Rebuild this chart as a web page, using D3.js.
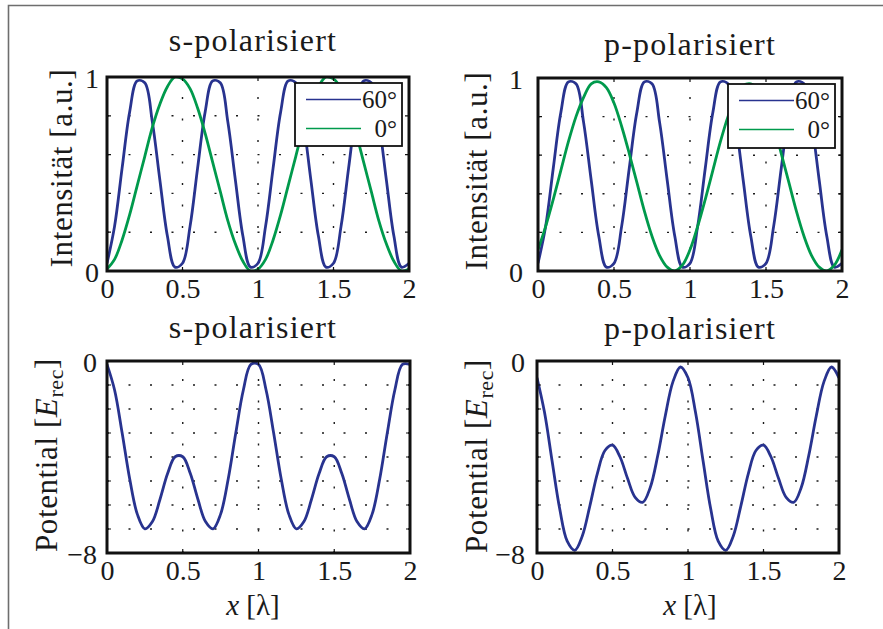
<!DOCTYPE html>
<html>
<head>
<meta charset="utf-8">
<script src="https://cdnjs.cloudflare.com/ajax/libs/d3/7.8.5/d3.min.js"></script>
<style>
  body { margin: 0; background: #fff; }
</style>
</head>
<body>
<div id="chart"></div>
<script>
// sample positions along x (in units of lambda)
const xPos = [0, 0.05, 0.1, 0.15, 0.2, 0.25, 0.3, 0.35, 0.4, 0.45,
              0.5, 0.55, 0.6, 0.65, 0.7, 0.75, 0.8, 0.85, 0.9, 0.95,
              1, 1.05, 1.1, 1.15, 1.2, 1.25, 1.3, 1.35, 1.4, 1.45,
              1.5, 1.55, 1.6, 1.65, 1.7, 1.75, 1.8, 1.85, 1.9, 1.95, 2];

const xTicks = [0, 0.5, 1, 1.5, 2];
const intTicks = [0, 0.2, 0.4, 0.6, 0.8, 1];
const intLabels = [0, 1];
const potTicks = [-8, -7, -6, -5, -4, -3, -2, -1, 0];
const potLabels = [-8, 0];
const legendNames = ["60°", "0°"];

// intensity, s-polarised
const intS60 = [0.04, 0.23, 0.53, 0.82, 0.98, 0.97, 0.77, 0.47, 0.18, 0.02,
                0.04, 0.23, 0.53, 0.82, 0.98, 0.97, 0.77, 0.47, 0.18, 0.02,
                0.04, 0.23, 0.53, 0.82, 0.98, 0.97, 0.77, 0.47, 0.18, 0.02,
                0.04, 0.23, 0.53, 0.82, 0.98, 0.97, 0.77, 0.47, 0.18, 0.02, 0.04];
const intS0 = [0.01, 0.06, 0.16, 0.29, 0.44, 0.59, 0.74, 0.86, 0.95, 1.00,
               0.99, 0.94, 0.84, 0.71, 0.56, 0.41, 0.26, 0.14, 0.05, 0.00,
               0.01, 0.06, 0.16, 0.29, 0.44, 0.59, 0.74, 0.86, 0.95, 1.00,
               0.99, 0.94, 0.84, 0.71, 0.56, 0.41, 0.26, 0.14, 0.05, 0.00, 0.01];

// intensity, p-polarised
const intP60 = [0.04, 0.23, 0.53, 0.82, 0.98, 0.97, 0.77, 0.47, 0.18, 0.02,
                0.04, 0.23, 0.53, 0.82, 0.98, 0.97, 0.77, 0.47, 0.18, 0.02,
                0.04, 0.23, 0.53, 0.82, 0.98, 0.97, 0.77, 0.47, 0.18, 0.02,
                0.04, 0.23, 0.53, 0.82, 0.98, 0.97, 0.77, 0.47, 0.18, 0.02, 0.04];
const intP0 = [0.11, 0.23, 0.37, 0.52, 0.67, 0.80, 0.90, 0.97, 0.98, 0.95,
               0.87, 0.75, 0.61, 0.46, 0.31, 0.18, 0.08, 0.02, 0.00, 0.03,
               0.11, 0.23, 0.37, 0.52, 0.67, 0.80, 0.90, 0.96, 0.97, 0.94,
               0.86, 0.75, 0.61, 0.46, 0.31, 0.18, 0.08, 0.02, 0.00, 0.03, 0.11];

// potential in E_rec
const potS = [-0.14, -1.21, -3.00, -4.92, -6.38, -6.99, -6.69, -5.76, -4.69, -3.99,
              -3.99, -4.69, -5.76, -6.69, -6.99, -6.38, -4.92, -3.00, -1.21, -0.14,
              -0.14, -1.21, -3.00, -4.92, -6.38, -6.99, -6.69, -5.76, -4.69, -3.99,
              -3.99, -4.69, -5.76, -6.69, -6.99, -6.38, -4.92, -3.00, -1.21, -0.14, -0.14];
const potP = [-0.70, -2.15, -4.17, -6.15, -7.51, -7.89, -7.29, -6.04, -4.68, -3.73,
              -3.51, -4.00, -4.90, -5.68, -5.89, -5.27, -3.93, -2.27, -0.87, -0.25,
              -0.70, -2.15, -4.17, -6.15, -7.51, -7.89, -7.29, -6.04, -4.68, -3.73,
              -3.51, -4.00, -4.90, -5.68, -5.89, -5.27, -3.93, -2.27, -0.87, -0.25, -0.70];

const blue = "#28338f";
const green = "#009a4c";
const serif = "'Liberation Serif', 'DejaVu Serif', serif";

const panels = [
  { title: "s-polarisiert", box: [107, 77, 409, 271], titleX: 253, titleY: 51,
    ylabX: 72, ylabY: 168, gap: 8, domain: [0, 1], ticks: intTicks, labels: intLabels,
    kind: "int", series: [[intS60, blue], [intS0, green]], legend: [295, 83, 402, 146] },
  { title: "p-polarisiert", box: [538, 78, 842, 271], titleX: 690, titleY: 55,
    ylabX: 487, ylabY: 171, gap: 15, domain: [0, 1], ticks: intTicks, labels: intLabels,
    kind: "int", series: [[intP60, blue], [intP0, green]], legend: [728, 84, 835, 148] },
  { title: "s-polarisiert", box: [107, 361, 410, 553], titleX: 253, titleY: 338,
    ylabX: 57, ylabY: 455, gap: 10, domain: [-8, 0], ticks: potTicks, labels: potLabels,
    kind: "pot", series: [[potS, blue]], xlabX: 253 },
  { title: "p-polarisiert", box: [537, 361, 839, 553], titleX: 690, titleY: 339,
    ylabX: 487, ylabY: 456, gap: 12, domain: [-8, 0], ticks: potTicks, labels: potLabels,
    kind: "pot", series: [[potP, blue]], xlabX: 690 }
];

const svg = d3.select("#chart").append("svg")
    .attr("width", 883)
    .attr("height", 629)
    .style("display", "block")
    .attr("font-family", serif);

// outer frame (only top and left edges visible)
svg.append("path")
    .attr("d", "M8.5,629V5.5H883")
    .attr("fill", "none")
    .attr("stroke", "#6e6e6e")
    .attr("stroke-width", 1.6);

panels.forEach((p, k) => {
    const [left, top, right, bottom] = p.box;
    const x = d3.scaleLinear().domain([0, 2]).range([left, right]);
    const y = d3.scaleLinear().domain(p.domain).range([bottom, top]);
    const g = svg.append("g");

    g.append("clipPath").attr("id", "clip" + k)
        .append("rect")
        .attr("x", left).attr("y", top)
        .attr("width", right - left).attr("height", bottom - top);

    // dotted grid
    const innerY = p.ticks.slice(1, -1);
    const innerX = xTicks.slice(1, -1);
    g.selectAll(".hgrid").data(innerY).enter().append("path")
        .attr("d", d => "M" + left + "," + y(d) + "H" + right)
        .attr("stroke", "#1a1a1a").attr("stroke-width", 1.4)
        .attr("stroke-dasharray", "2,19.5");
    g.selectAll(".vgrid").data(innerX).enter().append("path")
        .attr("d", d => "M" + x(d) + "," + bottom + "V" + top)
        .attr("stroke", "#1a1a1a").attr("stroke-width", 1.4)
        .attr("stroke-dasharray", "2,19.5");

    // curves
    const line = d3.line()
        .x((d, i) => x(xPos[i]))
        .y(d => y(d))
        .curve(d3.curveCatmullRom);
    p.series.forEach(s => {
        g.append("path")
            .attr("clip-path", "url(#clip" + k + ")")
            .attr("d", line(s[0]))
            .attr("fill", "none")
            .attr("stroke", s[1])
            .attr("stroke-width", 2.8);
    });

    // inward ticks on all four sides
    const tickLen = 4;
    p.ticks.forEach(t => {
        g.append("path").attr("d", "M" + left + "," + y(t) + "h" + tickLen + "M" + right + "," + y(t) + "h" + (-tickLen))
            .attr("stroke", "#111").attr("stroke-width", 1.2);
    });
    xTicks.forEach(t => {
        g.append("path").attr("d", "M" + x(t) + "," + bottom + "v" + (-tickLen) + "M" + x(t) + "," + top + "v" + tickLen)
            .attr("stroke", "#111").attr("stroke-width", 1.2);
    });

    // box
    g.append("rect")
        .attr("x", left).attr("y", top)
        .attr("width", right - left).attr("height", bottom - top)
        .attr("fill", "none").attr("stroke", "#111").attr("stroke-width", 3);

    // axes labels
    const xAxis = g.append("g")
        .attr("transform", "translate(0," + bottom + ")")
        .call(d3.axisBottom(x).tickValues(xTicks).tickSize(0).tickPadding(7).tickFormat(d3.format("~g")));
    xAxis.select(".domain").remove();
    xAxis.attr("font-family", serif).attr("font-size", 28);
    xAxis.selectAll("text").attr("fill", "#1a1a1a");

    const yAxis = g.append("g")
        .attr("transform", "translate(" + left + ",0)")
        .call(d3.axisLeft(y).tickValues(p.labels).tickSize(0).tickPadding(p.gap).tickFormat(d3.format("d")));
    yAxis.select(".domain").remove();
    yAxis.attr("font-family", serif).attr("font-size", 28);
    yAxis.selectAll("text").attr("fill", "#1a1a1a").attr("dy", "0.38em");

    // title
    g.append("text")
        .attr("x", p.titleX).attr("y", p.titleY)
        .attr("text-anchor", "middle")
        .attr("font-family", serif)
        .attr("font-size", 32)
        .attr("letter-spacing", 1.2)
        .attr("fill", "#1a1a1a")
        .text(p.title);

    // y label
    const yl = g.append("text")
        .attr("transform", "translate(" + p.ylabX + "," + p.ylabY + ") rotate(-90)")
        .attr("text-anchor", "middle")
        .attr("font-family", serif)
        .attr("font-size", 31)
        .attr("letter-spacing", 0.6)
        .attr("fill", "#1a1a1a");
    if (p.kind === "int") {
        yl.text("Intensität [a.u.]");
    } else {
        yl.append("tspan").text("Potential [");
        yl.append("tspan").attr("font-style", "italic").text("E");
        yl.append("tspan").attr("font-size", 22).attr("dy", 6).text("rec");
        yl.append("tspan").attr("dy", -6).text("]");
    }

    // x label on bottom row
    if (p.kind === "pot") {
        const xl = g.append("text")
            .attr("x", p.xlabX).attr("y", 615)
            .attr("text-anchor", "middle")
            .attr("font-family", serif)
            .attr("font-size", 29)
            .attr("fill", "#1a1a1a");
        xl.append("tspan").attr("font-style", "italic").text("x");
        xl.append("tspan").text(" [λ]");
    }

    // legend
    if (p.legend) {
        const [lx0, ly0, lx1, ly1] = p.legend;
        const lg = g.append("g");
        lg.append("rect")
            .attr("x", lx0).attr("y", ly0)
            .attr("width", lx1 - lx0).attr("height", ly1 - ly0)
            .attr("fill", "#fff").attr("stroke", "#111").attr("stroke-width", 1.8);
        p.series.forEach((s, i) => {
            const ly = ly0 + 16.5 + i * 29;
            lg.append("line")
                .attr("x1", lx0 + 11).attr("x2", lx0 + 66)
                .attr("y1", ly).attr("y2", ly)
                .attr("stroke", s[1]).attr("stroke-width", 1.6);
            lg.append("text")
                .attr("x", lx1 - 5).attr("y", ly)
                .attr("dy", "0.35em")
                .attr("text-anchor", "end")
                .attr("font-family", serif)
                .attr("font-size", 25)
                .attr("fill", "#1a1a1a")
                .text(legendNames[i]);
        });
    }
});
</script>
</body>
</html>
